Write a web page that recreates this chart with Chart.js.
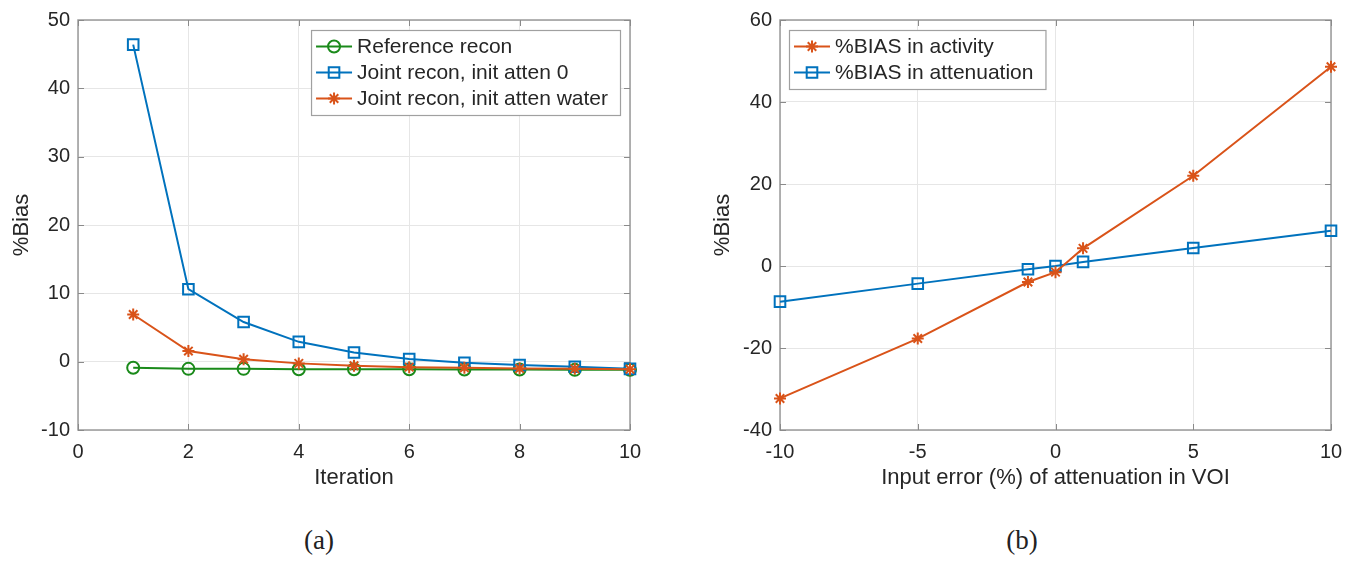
<!DOCTYPE html>
<html>
<head>
<meta charset="utf-8">
<script src="https://cdn.jsdelivr.net/npm/chart.js@4.4.1/dist/chart.umd.min.js"></script>
<style>
  body { margin: 0; background: #fff; width: 1360px; height: 564px; overflow: hidden; position: relative; }
  .panel { position: absolute; top: 0; width: 680px; height: 500px; }
  .caption { position: absolute; top: 525px; line-height: 30px; font-family: "Liberation Serif", "DejaVu Serif", serif; font-size: 27px; color: #222; transform: translateX(-50%); }
</style>
</head>
<body>
<div class="panel" style="left:0"><canvas id="chartA" width="680" height="500"></canvas></div>
<div class="panel" style="left:680px"><canvas id="chartB" width="680" height="500"></canvas></div>
<div class="caption" style="left:319px">(a)</div>
<div class="caption" style="left:1022px">(b)</div>
<script>
// (a) bias vs iteration
const iterations = [1, 2, 3, 4, 5, 6, 7, 8, 9, 10];
const referenceRecon = [-0.9, -1.05, -1.05, -1.1, -1.1, -1.1, -1.15, -1.15, -1.2, -1.2];
const jointAtten0 = [46.4, 10.6, 5.8, 2.9, 1.35, 0.4, -0.15, -0.5, -0.75, -1.05];
const jointAttenWater = [6.9, 1.55, 0.35, -0.25, -0.6, -0.8, -0.9, -1.0, -1.05, -1.1];
const xTicksA = [0, 2, 4, 6, 8, 10];
const yTicksA = [-10, 0, 10, 20, 30, 40, 50];

// (b) bias vs input error
const inputError = [-10, -5, -1, 0, 1, 5, 10];
const biasActivity = [-32.3, -17.7, -3.9, -1.5, 4.3, 22.0, 48.6];
const biasAttenuation = [-8.7, -4.3, -0.8, 0, 1.0, 4.4, 8.6];
const xTicksB = [-10, -5, 0, 5, 10];
const yTicksB = [-40, -20, 0, 20, 40, 60];

const BLUE = '#0072BD';
const ORANGE = '#D95319';
const GREEN = '#1a8a1a';
const FONT = '"Liberation Sans", Arial, sans-serif';
const TEXT = '#262626';

function pts(xs, ys) {
    return xs.map((x, i) => ({ x: x, y: ys[i] }));
}

function series(label, xs, ys, color, style, radius, order) {
    return {
        label: label,
        data: pts(xs, ys),
        borderColor: color,
        borderWidth: 2,
        pointStyle: style,
        pointRadius: radius,
        pointBorderColor: color,
        pointBackgroundColor: 'rgba(0,0,0,0)',
        pointBorderWidth: 2,
        tension: 0,
        clip: false,
        order: order
    };
}

// box around the axes, inward tick marks, and a MATLAB style legend inside the plot
const framePlugin = {
    id: 'frame',
    beforeDatasetsDraw(chart) {
        const { ctx, chartArea: a, scales } = chart;
        ctx.save();
        ctx.strokeStyle = '#9a9a9a';
        ctx.lineWidth = 1.5;
        ctx.strokeRect(a.left, a.top, a.right - a.left, a.bottom - a.top);
        ctx.strokeStyle = '#8a8a8a';
        ctx.lineWidth = 1;
        ctx.beginPath();
        scales.x.ticks.forEach(t => {
            const px = Math.round(scales.x.getPixelForValue(t.value)) + 0.5;
            ctx.moveTo(px, a.bottom); ctx.lineTo(px, a.bottom - 6);
            ctx.moveTo(px, a.top); ctx.lineTo(px, a.top + 6);
        });
        scales.y.ticks.forEach(t => {
            const py = Math.round(scales.y.getPixelForValue(t.value)) + 0.5;
            ctx.moveTo(a.left, py); ctx.lineTo(a.left + 6, py);
            ctx.moveTo(a.right, py); ctx.lineTo(a.right - 6, py);
        });
        ctx.stroke();
        ctx.restore();
    },
    afterDraw(chart, args, opts) {
        const { ctx, chartArea: a } = chart;
        const sets = chart.data.datasets.slice().sort((p, q) => p.legendIndex - q.legendIndex);
        ctx.save();
        ctx.font = '21px ' + FONT;
        const textW = Math.max(...sets.map(d => ctx.measureText(d.label).width));
        const w = textW + 58;
        const rowH = 26;
        const h = rowH * sets.length + 7;
        const left = opts.side === 'right' ? a.right - opts.inset - w : a.left + opts.inset;
        const top = a.top + 10;
        ctx.fillStyle = '#fff';
        ctx.fillRect(left, top, w, h);
        ctx.strokeStyle = '#a0a0a0';
        ctx.lineWidth = 1.2;
        ctx.strokeRect(left + 0.5, top + 0.5, w, h);
        sets.forEach((d, i) => {
            const y = top + 16.5 + i * rowH;
            ctx.strokeStyle = d.borderColor;
            ctx.lineWidth = 2;
            ctx.beginPath();
            ctx.moveTo(left + 5, y);
            ctx.lineTo(left + 41, y);
            ctx.stroke();
            ctx.fillStyle = 'rgba(0,0,0,0)';
            Chart.helpers.drawPoint(ctx, { pointStyle: d.pointStyle, radius: d.pointRadius, borderWidth: 2, rotation: 0 }, left + 23, y);
            ctx.fillStyle = TEXT;
            ctx.textBaseline = 'middle';
            ctx.textAlign = 'left';
            ctx.fillText(d.label, left + 46, y + 1);
        });
        ctx.restore();
    }
};

function axes(xTicks, yTicks, xTitle, yWidth, yTitlePad) {
    const tickFont = { family: FONT, size: 20 };
    const titleFont = { family: FONT, size: 22 };
    return {
        x: {
            type: 'linear',
            min: xTicks[0],
            max: xTicks[xTicks.length - 1],
            afterBuildTicks: s => { s.ticks = xTicks.map(v => ({ value: v })); },
            afterFit: s => { s.height = 70; },
            grid: { color: '#e6e6e6', lineWidth: 1, drawTicks: false },
            border: { display: false },
            ticks: { color: TEXT, font: tickFont, padding: 10, maxRotation: 0 },
            title: { display: true, text: xTitle, color: TEXT, font: titleFont, padding: { top: 0, bottom: 9 } }
        },
        y: {
            type: 'linear',
            min: yTicks[0],
            max: yTicks[yTicks.length - 1],
            afterBuildTicks: s => { s.ticks = yTicks.map(v => ({ value: v })); },
            afterFit: s => { s.width = yWidth; },
            grid: { color: '#e6e6e6', lineWidth: 1, drawTicks: false },
            border: { display: false },
            ticks: { color: TEXT, font: tickFont, padding: 8 },
            title: { display: true, text: '%Bias', color: TEXT, font: titleFont, padding: { top: yTitlePad, bottom: 0 } }
        }
    };
}

const dsA = [
    series('Reference recon', iterations, referenceRecon, GREEN, 'circle', 6, 3),
    series('Joint recon, init atten 0', iterations, jointAtten0, BLUE, 'rect', 7.5, 2),
    series('Joint recon, init atten water', iterations, jointAttenWater, ORANGE, 'star', 6, 1)
];
dsA.forEach((d, i) => { d.legendIndex = i; });

new Chart(document.getElementById('chartA'), {
    type: 'line',
    data: { datasets: dsA },
    options: {
        responsive: false,
        animation: false,
        layout: { padding: { left: 0, right: 50, top: 17, bottom: 0 } },
        scales: axes(xTicksA, yTicksA, 'Iteration', 78, 9),
        plugins: {
            legend: { display: false },
            tooltip: { enabled: false },
            frame: { side: 'right', inset: 10 }
        }
    },
    plugins: [framePlugin]
});

const dsB = [
    series('%BIAS in activity', inputError, biasActivity, ORANGE, 'star', 6, 1),
    series('%BIAS in attenuation', inputError, biasAttenuation, BLUE, 'rect', 7.5, 2)
];
dsB.forEach((d, i) => { d.legendIndex = i; });

new Chart(document.getElementById('chartB'), {
    type: 'line',
    data: { datasets: dsB },
    options: {
        responsive: false,
        animation: false,
        layout: { padding: { left: 0, right: 29, top: 17, bottom: 0 } },
        scales: axes(xTicksB, yTicksB, 'Input error (%) of attenuation in VOI', 100, 30),
        plugins: {
            legend: { display: false },
            tooltip: { enabled: false },
            frame: { side: 'left', inset: 9 }
        }
    },
    plugins: [framePlugin]
});
</script>
</body>
</html>
